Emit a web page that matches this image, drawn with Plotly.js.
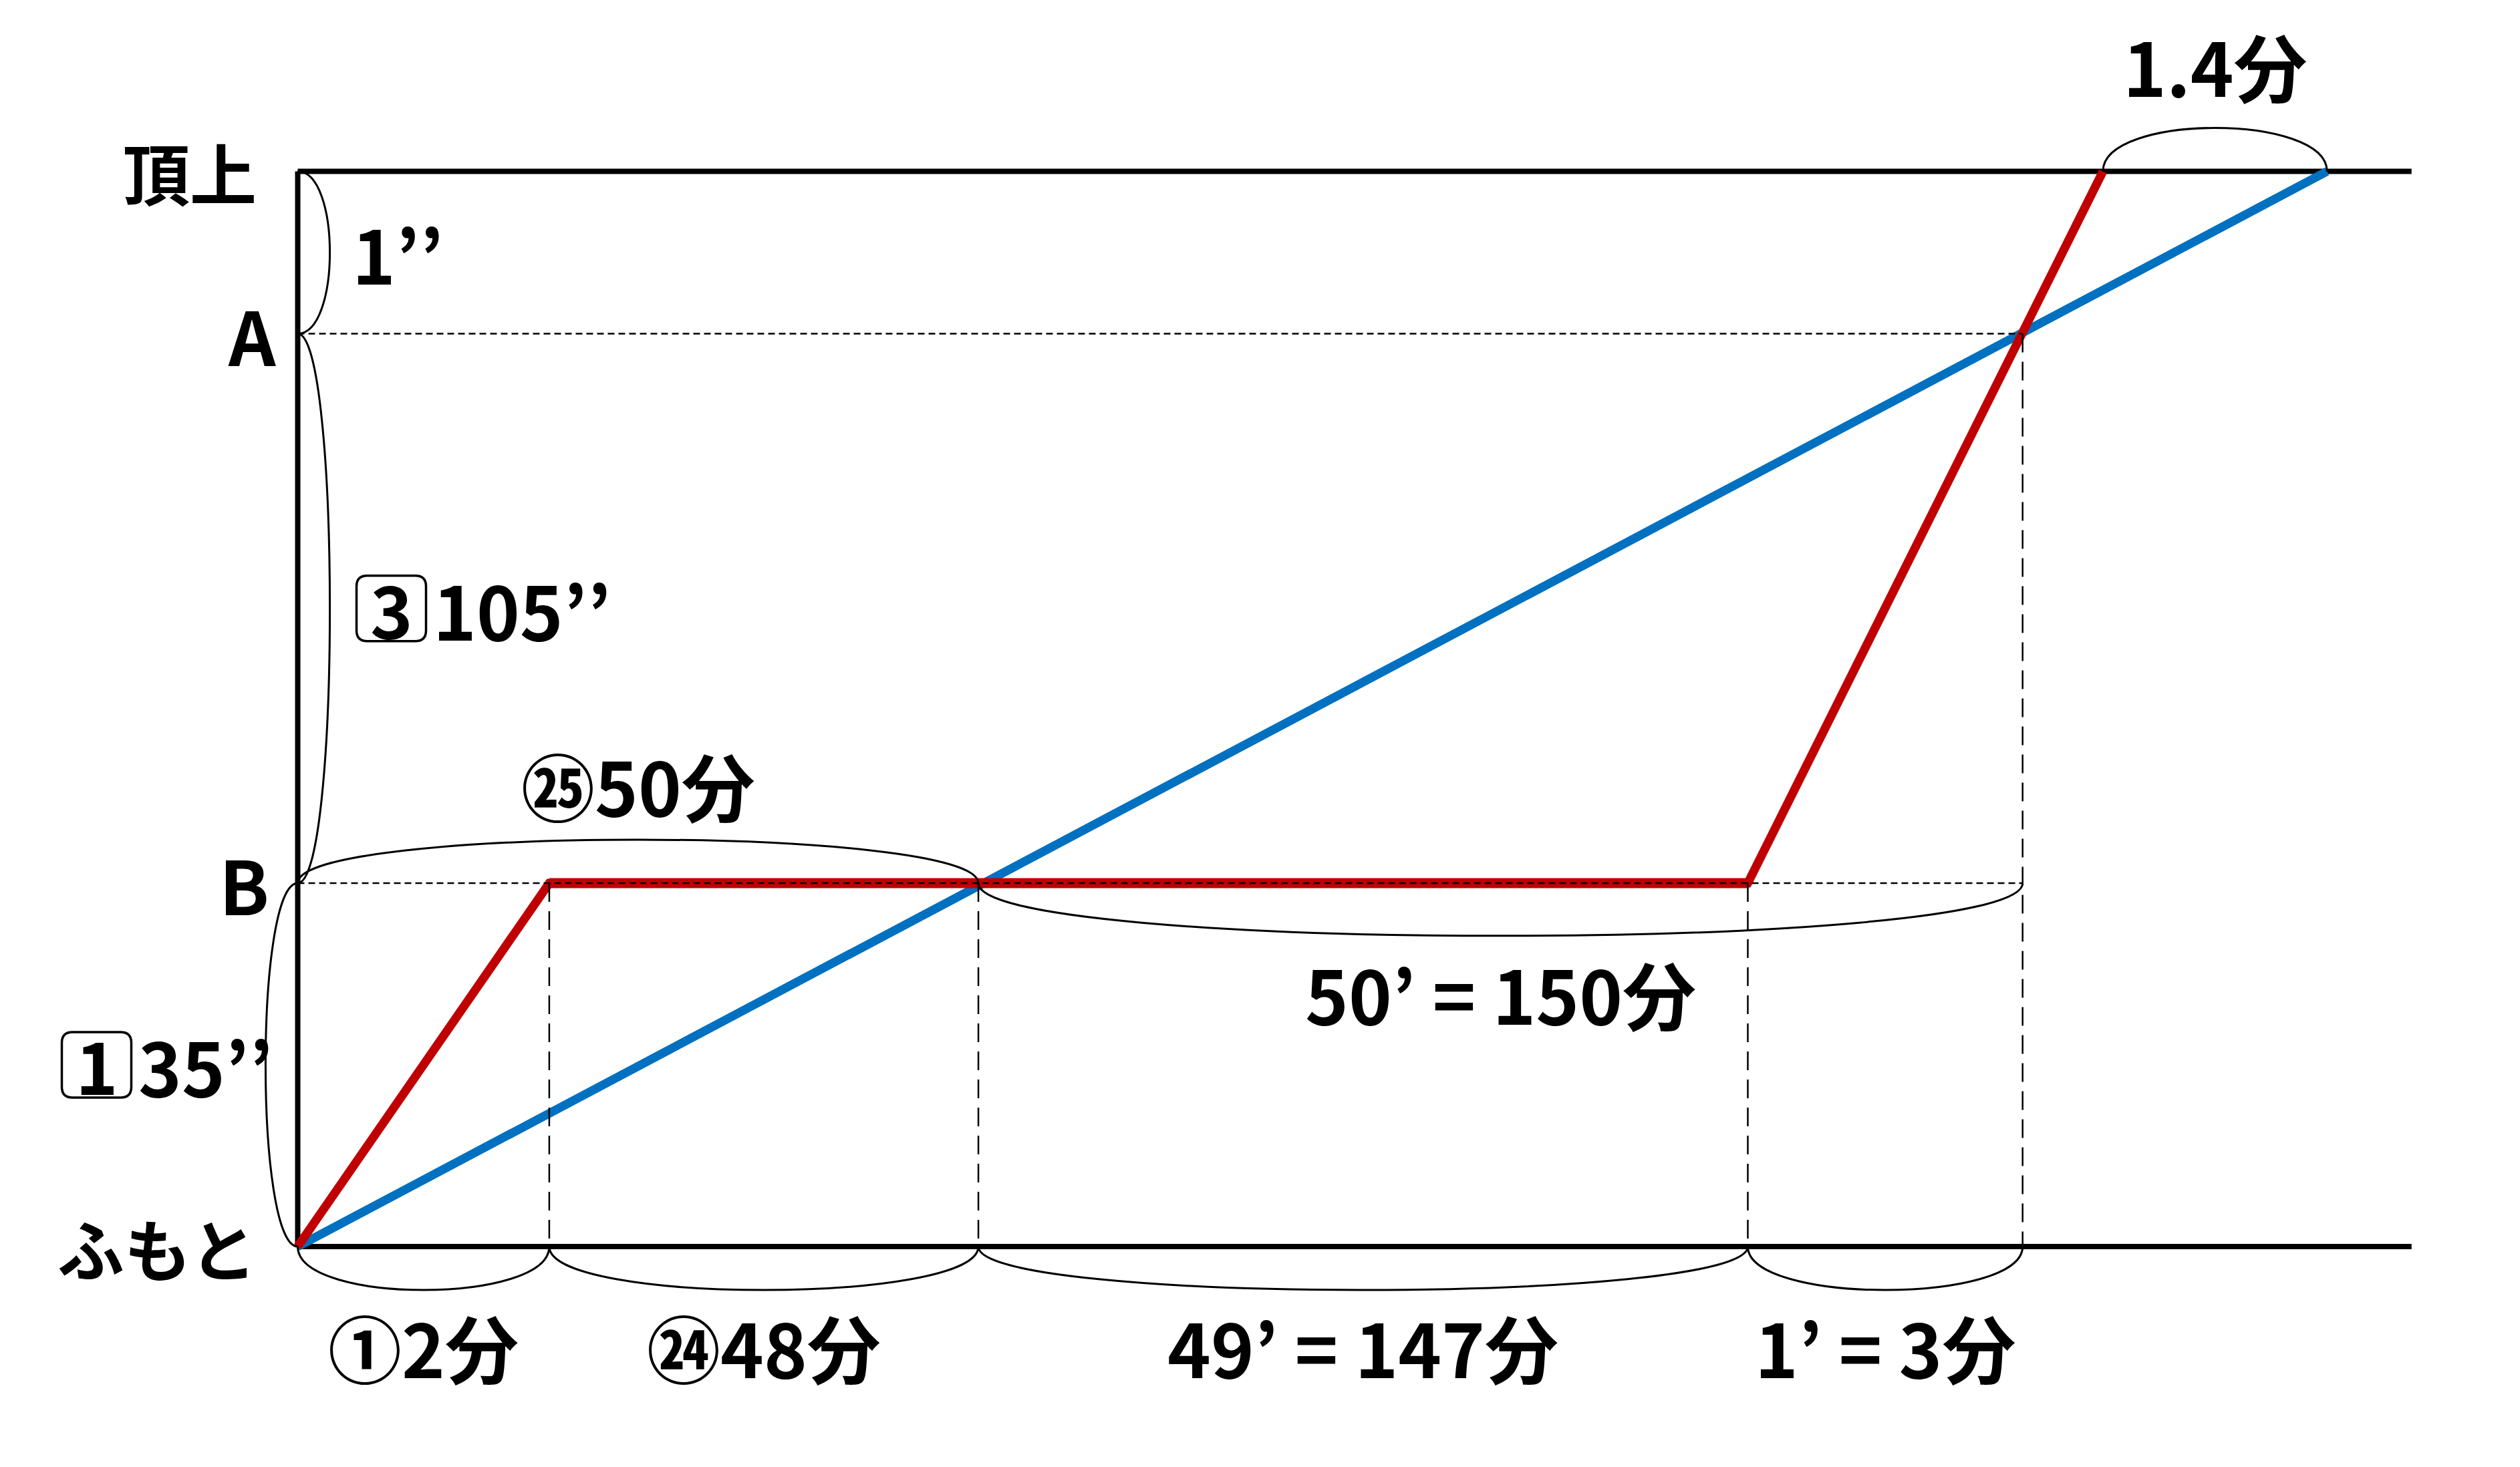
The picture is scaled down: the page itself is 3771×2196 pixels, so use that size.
<!DOCTYPE html>
<html>
<head>
<meta charset="utf-8">
<script src="https://cdn.plot.ly/plotly-3.0.1.min.js"></script>
<style>html,body{margin:0;padding:0;background:#fff;}#chart{width:3771px;height:2196px;}</style>
</head>
<body>
<div id="chart"></div>
<script>
// ---- data (schematic units: time along x, height along y) ----
const levelNames = ['ふもと', 'B', 'A', '頂上'];
const levelValues = [0, 33.8, 84.9, 100];
const lineEnd = 100;

const redTimes = [0, 11.9, 68.6, 85.4];
const redHeights = [0, 33.8, 33.8, 100];
const blueTimes = [0, 96.0];
const blueHeights = [0, 100];

const bottomSpans = [[0, 11.9], [11.9, 32.2], [32.2, 68.6], [68.6, 81.6]];
const bottomLabels = ['①2分', '㉔48分', '49’ = 147分', '1’ = 3分'];
const bUpperSpan = [0, 32.2];
const bUpperLabel = '㉕50分';
const bLowerSpan = [32.2, 81.6];
const bLowerLabel = '50’ = 150分';
const topSpan = [85.4, 96.0];
const topLabel = '1.4分';
const leftSpans = [[84.9, 100], [33.8, 84.9], [0, 33.8]];
const leftLabels = ['1’’', '105’’', '35’’'];
const leftBoxes = ['', '3', '1'];

const guideTimesB = [11.9, 32.2, 68.6];
const guideTimeA = 81.6;

// ---- styling ----
const BLACK = '#000000', RED = '#C00000', BLUE = '#0070C0';
const FONT = 'Noto Sans CJK JP, Noto Sans, sans-serif';
const fNum = {family: FONT, size: 110, color: BLACK, weight: 700};
const fLev = {family: FONT, size: 100, color: BLACK, weight: 700};

const yB = levelValues[1], yA = levelValues[2], yTop = levelValues[3], yBot = levelValues[0];

const traces = [];
// frame lines
traces.push({x: [0, 0], y: [yBot, yTop], mode: 'lines', line: {color: BLACK, width: 8}});
traces.push({x: [0, lineEnd], y: [yTop, yTop], mode: 'lines', line: {color: BLACK, width: 8}});
traces.push({x: [0, lineEnd], y: [yBot, yBot], mode: 'lines', line: {color: BLACK, width: 8}});
// blue and red
traces.push({x: blueTimes, y: blueHeights, mode: 'lines', line: {color: BLUE, width: 13}});
traces.push({x: redTimes, y: redHeights, mode: 'lines', line: {color: RED, width: 13}});
traces.push({x: redTimes.slice(1, 3), y: redHeights.slice(1, 3), mode: 'lines', line: {color: RED, width: 15}});
// dashed guides
traces.push({x: [0, guideTimeA], y: [yA, yA], mode: 'lines', line: {color: BLACK, width: 2.5, dash: '10px,6px'}});
traces.push({x: [0, guideTimeA], y: [yB, yB], mode: 'lines', line: {color: BLACK, width: 2.5, dash: '10px,6px'}});
guideTimesB.forEach(t => traces.push({x: [t, t], y: [yB, yBot], mode: 'lines', line: {color: BLACK, width: 2.5, dash: '28px,14px'}}));
traces.push({x: [guideTimeA, guideTimeA], y: [yA, yBot], mode: 'lines', line: {color: BLACK, width: 2.5, dash: '28px,14px'}});

// braces
const shapes = [];
function hBrace(x0, x1, y, bulge) {
  const k = bulge / 0.75;
  shapes.push({type: 'path', xref: 'x', yref: 'y', layer: 'above',
    path: `M ${x0},${y} C ${x0},${y + k} ${x1},${y + k} ${x1},${y}`,
    line: {color: BLACK, width: 3}});
}
function vBrace(y0, y1, x, bulge) {
  const k = bulge / 0.75;
  shapes.push({type: 'path', xref: 'x', yref: 'y', layer: 'above',
    path: `M ${x},${y0} C ${x + k},${y0} ${x + k},${y1} ${x},${y1}`,
    line: {color: BLACK, width: 3}});
}
bottomSpans.forEach(s => hBrace(s[0], s[1], yBot, -4.04));
hBrace(bUpperSpan[0], bUpperSpan[1], yB, 4.04);
hBrace(bLowerSpan[0], bLowerSpan[1], yB, -4.9);
hBrace(topSpan[0], topSpan[1], yTop, 4.04);
vBrace(leftSpans[0][0], leftSpans[0][1], 0, 1.52);
vBrace(leftSpans[1][0], leftSpans[1][1], 0, 1.52);
vBrace(leftSpans[2][0], leftSpans[2][1], 0, -1.52);

// rounded box (pixel-sized, anchored in data space)
function roundBox(xAnchor, yAnchor, cx, w, h, r) {
  const x0 = cx - w / 2, x1 = cx + w / 2, y0 = -h / 2, y1 = h / 2;
  const p = `M ${x0 + r},${y0} L ${x1 - r},${y0} Q ${x1},${y0} ${x1},${y0 + r} L ${x1},${y1 - r} Q ${x1},${y1} ${x1 - r},${y1} ` +
            `L ${x0 + r},${y1} Q ${x0},${y1} ${x0},${y1 - r} L ${x0},${y0 + r} Q ${x0},${y0} ${x0 + r},${y0} Z`;
  shapes.push({type: 'path', xref: 'x', yref: 'y', xsizemode: 'pixel', ysizemode: 'pixel',
    xanchor: xAnchor, yanchor: yAnchor, path: p, layer: 'above', line: {color: BLACK, width: 3.5}});
}

// annotations
const ann = [];
function A(o) { ann.push(Object.assign({xref: 'x', yref: 'y', showarrow: false, xanchor: 'center', yanchor: 'middle', font: fNum}, o)); }
// level names
const levShift = [-60, -41, -31, -60];
levelNames.forEach((n, i) => A({x: 0, y: levelValues[i], text: n, xanchor: 'right', xshift: levShift[i], font: (i === 1 || i === 2) ? fNum : fLev}));
// bottom
bottomSpans.forEach((s, i) => A({x: (s[0] + s[1]) / 2, y: yBot, yshift: -149, text: bottomLabels[i]}));
A({x: (bUpperSpan[0] + bUpperSpan[1]) / 2, y: yB, yshift: 148, text: bUpperLabel});
A({x: (bLowerSpan[0] + bLowerSpan[1]) / 2, y: yB, yshift: -164, text: bLowerLabel});
A({x: (topSpan[0] + topSpan[1]) / 2, y: yTop, yshift: 160, text: topLabel});
// left
const leftTextShift = [79, 200, -241];
const leftBoxShift = [0, 140, -301];
leftSpans.forEach((s, i) => {
  const ym = (s[0] + s[1]) / 2;
  A({x: 0, y: ym, xanchor: 'left', xshift: leftTextShift[i], text: leftLabels[i]});
  if (leftBoxes[i]) {
    roundBox(0, ym, leftBoxShift[i], 104, 98, 16);
    A({x: 0, y: ym, xshift: leftBoxShift[i], yshift: 2, text: leftBoxes[i], font: Object.assign({}, fNum, {size: 108})});
  }
});

const layout = {
  width: 3771, height: 2196,
  margin: {l: 0, r: 0, t: 0, b: 0, pad: 0},
  paper_bgcolor: '#ffffff', plot_bgcolor: '#ffffff',
  showlegend: false,
  xaxis: {range: [-14.084, 105.13], visible: false, fixedrange: true},
  yaxis: {range: [-20.503, 115.94], visible: false, fixedrange: true},
  shapes: shapes,
  annotations: ann
};
Plotly.newPlot('chart', traces.map(t => Object.assign({hoverinfo: 'skip', showlegend: false}, t)), layout, {staticPlot: true, displayModeBar: false});
</script>
</body>
</html>
